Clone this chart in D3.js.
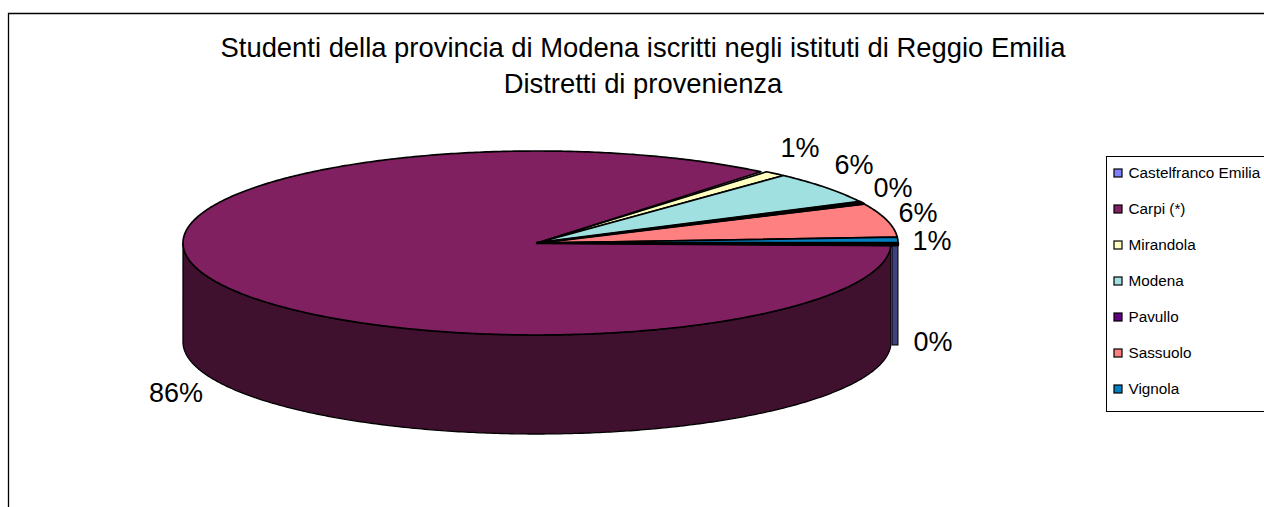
<!DOCTYPE html>
<html>
<head>
<meta charset="utf-8">
<script src="https://d3js.org/d3.v7.min.js"></script>
<style>
html, body { margin: 0; padding: 0; background: #fff; overflow: hidden; }
text { font-family: "Liberation Sans", Arial, sans-serif; fill: #000; }
</style>
</head>
<body>
<svg id="chart" width="1264" height="507"></svg>
<script>
// values, in percent
var titleLines = ['Studenti della provincia di Modena iscritti negli istituti di Reggio Emilia', 'Distretti di provenienza'];
var districts = ['Castelfranco Emilia', 'Carpi (*)', 'Mirandola', 'Modena', 'Pavullo', 'Sassuolo', 'Vignola'];
var shares = [0.4, 85.5, 1.0, 5.7, 0.4, 6.0, 1.0];
var topColors = ['#8080ff', '#802060', '#ffffc0', '#a0e0e0', '#600080', '#ff8080', '#0080c0'];
var wallColors = ['#40407f', '#40102f', '#80805f', '#507070', '#300040', '#804040', '#004060'];

// layout only
var labelSpots = [[933, 351], [176, 402], [800, 157], [854, 174], [893, 197], [918, 222], [932, 250]];
var depth = 99;
var wallInset = 6;

var svg = d3.select('#chart');

// frame runs off the right and bottom of the picture
svg.append('path')
    .attr('d', 'M8.5,507V13.5H1264')
    .attr('fill', 'none')
    .attr('stroke', '#000')
    .attr('stroke-width', 1.3);

svg.selectAll('text.title').data(titleLines).enter()
    .append('text')
    .attr('class', 'title')
    .attr('x', 643)
    .attr('y', function(d, i) { return 57 + i * 36; })
    .attr('text-anchor', 'middle')
    .style('font-size', '27.4px')
    .text(function(d) { return d; });

// unit circle -> screen. The Carpi slice sits a little inside the others in the original
var xInner = d3.scaleLinear().domain([-1, 1]).range([183, 891]);
var xOuter = d3.scaleLinear().domain([-1, 1]).range([183, 898]);
var yTop = d3.scaleLinear().domain([-1, 1]).range([151, 335]);
var apexX = xInner(0);

var slices = d3.pie().sort(null).startAngle(Math.PI / 2).endAngle(Math.PI / 2 + 2 * Math.PI)(shares);

function rimPoints(a0, a1, xs, dy) {
    var n = Math.max(2, Math.ceil(Math.abs(a1 - a0) / 0.01));
    return d3.range(n + 1).map(function(i) {
        var a = a0 + (a1 - a0) * i / n;
        return [xs(Math.sin(a)), yTop(-Math.cos(a)) + dy];
    });
}

var line = d3.line();

// side walls, only the front half (3 o'clock round to 9 o'clock) shows
var carpi = slices[1];
var wallTop = rimPoints(carpi.startAngle, Math.PI * 3 / 2, xInner, 0);
var wallBottom = rimPoints(Math.PI * 3 / 2, carpi.startAngle, xInner, depth);
svg.append('path')
    .attr('d', line(wallTop.concat(wallBottom)) + 'Z')
    .attr('fill', wallColors[1])
    .attr('stroke', '#000')
    .attr('stroke-width', 1.3);

// Castelfranco wall: a thin strip at the right end
svg.append('rect')
    .attr('x', xOuter(1) - wallInset)
    .attr('y', yTop(0) + 1)
    .attr('width', wallInset)
    .attr('height', depth + 2)
    .attr('fill', wallColors[0])
    .attr('stroke', '#000')
    .attr('stroke-width', 1);

svg.selectAll('path.slice').data(slices).enter()
    .append('path')
    .attr('class', 'slice')
    .attr('d', function(d, i) {
        var xs = i === 1 ? xInner : xOuter;
        return line([[apexX, yTop(0)]].concat(rimPoints(d.startAngle, d.endAngle, xs, 0))) + 'Z';
    })
    .attr('fill', function(d, i) { return topColors[i]; })
    .attr('stroke', '#000')
    .attr('stroke-width', 1.7)
    .attr('stroke-linejoin', 'round');

// slices that round to 0% come out as heavy black lines, keep them on top
svg.selectAll('path.slice')
    .filter(function(d) { return Math.round(d.value) === 0; })
    .attr('stroke-width', 2.4)
    .raise();

svg.selectAll('text.pct').data(shares).enter()
    .append('text')
    .attr('class', 'pct')
    .attr('x', function(d, i) { return labelSpots[i][0]; })
    .attr('y', function(d, i) { return labelSpots[i][1]; })
    .attr('text-anchor', 'middle')
    .style('font-size', '27px')
    .text(function(d) { return Math.round(d) + '%'; });

// legend
var legendY = d3.scalePoint().domain(districts).range([173, 389]);
svg.append('rect')
    .attr('x', 1106.5)
    .attr('y', 156.5)
    .attr('width', 170)
    .attr('height', 255)
    .attr('fill', '#fff')
    .attr('stroke', '#000');

var items = svg.selectAll('g.item').data(districts).enter()
    .append('g')
    .attr('class', 'item')
    .attr('transform', function(d) { return 'translate(0,' + legendY(d) + ')'; });
items.append('rect')
    .attr('x', 1114)
    .attr('y', -4)
    .attr('width', 8)
    .attr('height', 8)
    .attr('fill', function(d, i) { return topColors[i]; })
    .attr('stroke', '#000')
    .attr('stroke-width', 1.2);
items.append('text')
    .attr('x', 1128.5)
    .attr('y', 5)
    .style('font-size', '15.3px')
    .text(function(d) { return d; });
</script>
</body>
</html>
